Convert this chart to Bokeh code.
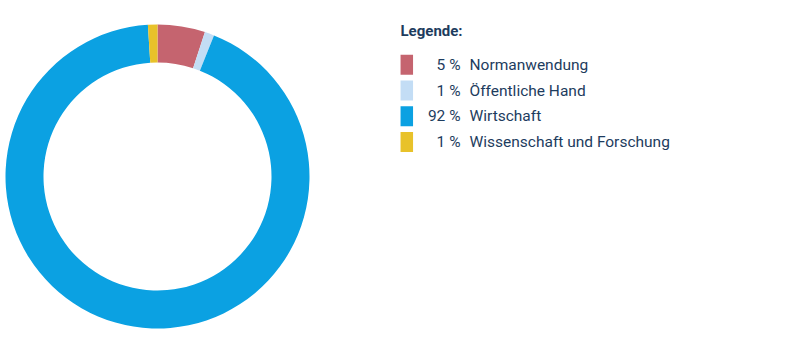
import math
from bokeh.plotting import figure
from bokeh.models import Range1d, ColumnDataSource
from bokeh.core.properties import value
from bokeh.embed import file_html
from bokeh.resources import INLINE

categories = ["Normanwendung", "Öffentliche Hand", "Wirtschaft", "Wissenschaft und Forschung"]
shares = [5, 1, 92, 1]
pct_labels = ["5 %", "1 %", "92 %", "1 %"]
colors = ["#c5646f", "#c3ddf5", "#0ba1e2", "#e8c22a"]
legend_title = "Legende:"

W, H = 801, 351
TEXT = "#1d3c5e"
FONT = "Roboto"

p = figure(width=W, height=H, output_backend="svg", toolbar_location=None,
           x_range=Range1d(0, W), y_range=Range1d(0, H), min_border=0)
p.axis.visible = False
p.grid.visible = False
p.outline_line_color = None
p.background_fill_color = "white"
p.border_fill_color = "white"

total = sum(shares)
starts, ends = [], []
cum = 0.0
for s in shares:
    starts.append(math.radians(90 - cum / total * 360))
    cum += s
    ends.append(math.radians(90 - cum / total * 360))

src = ColumnDataSource(dict(start=starts, end=ends, color=colors))
p.annular_wedge(x=157, y=H - 176, inner_radius=114, outer_radius=152,
                start_angle="start", end_angle="end", direction="clock",
                fill_color="color", line_color=None, source=src)

# legend
p.text(x=[400], y=[H - 30], text=[legend_title], text_font=value(FONT),
       text_font_size="15px", text_font_style="bold", text_color=TEXT,
       text_baseline="middle", text_align="left")

row_c = [64.3 + 25.7 * i for i in range(len(categories))]
lsrc = ColumnDataSource(dict(
    yc=[H - c for c in row_c],
    color=colors, pct=pct_labels, cat=categories))
p.rect(x=406.3, y="yc", width=12.5, height=20, fill_color="color",
       line_color=None, source=lsrc)
p.text(x=460, y="yc", text="pct", text_font=value(FONT), text_font_size="15.5px",
       text_color=TEXT, text_align="right", text_baseline="middle", source=lsrc)
p.text(x=469, y="yc", text="cat", text_font=value(FONT), text_font_size="15.5px",
       text_color=TEXT, text_align="left", text_baseline="middle", source=lsrc)

open("out.html", "w").write(file_html(p, INLINE))
